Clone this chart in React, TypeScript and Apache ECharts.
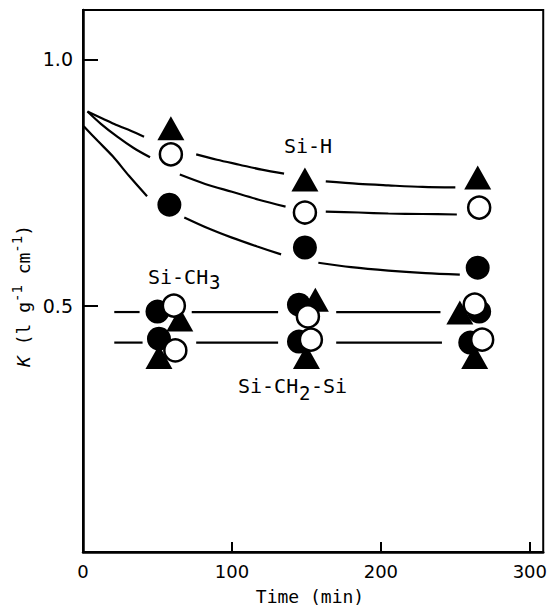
import React, { useEffect, useRef } from 'react';
import * as echarts from 'echarts';

// Axis ticks
const xTickValues = [0, 100, 200, 300];
const yTickValues = [0.5, 1.0];

// Measured points [time (min), K]
const triangles: [number, number][] = [
  [59, 0.860], [149, 0.756], [265, 0.760],
  [65, 0.472], [156, 0.512], [253, 0.486],
  [51, 0.396], [150, 0.396], [263, 0.396],
];
const filledCircles: [number, number][] = [
  [58, 0.705], [149, 0.618], [265, 0.577],
  [50, 0.488], [145, 0.502], [266, 0.488],
  [51, 0.433], [145, 0.427], [260, 0.425],
];
const openCircles: [number, number][] = [
  [59, 0.807], [149, 0.689], [266, 0.699],
  [61, 0.500], [151, 0.478], [263, 0.502],
  [62, 0.409], [153, 0.431], [268, 0.431],
];

// Hand-drawn guide curves (segments broken around the markers)
const curveSiHTriangle: [number, number][][] = [
  [[3, 0.894], [13, 0.880], [22, 0.867], [32, 0.855], [41, 0.843]],
  [[76, 0.807], [90, 0.796], [105, 0.786], [120, 0.776], [135, 0.768]],
  [[163, 0.752], [185, 0.747], [205, 0.744], [228, 0.741], [250, 0.740]],
];
const curveSiHOpen: [number, number][][] = [
  [[3, 0.894], [12, 0.869], [23, 0.843], [34, 0.820], [45, 0.801]],
  [[65, 0.766], [82, 0.747], [100, 0.731], [118, 0.715], [136, 0.701]],
  [[163, 0.691], [185, 0.689], [205, 0.687], [228, 0.686], [251, 0.685]],
];
const curveSiHFilled: [number, number][][] = [
  [[0.5, 0.864], [10, 0.834], [20, 0.803], [31, 0.763], [43, 0.722]],
  [[68, 0.679], [84, 0.657], [100, 0.638], [117, 0.620], [133, 0.604]],
  [[158, 0.587], [180, 0.578], [205, 0.571], [230, 0.566], [253, 0.563]],
];
const lineSiCH3: [number, number][][] = [
  [[21, 0.487], [38, 0.487]],
  [[73, 0.487], [131, 0.487]],
  [[170, 0.487], [240, 0.487]],
];
const lineSiCH2Si: [number, number][][] = [
  [[21, 0.425], [40, 0.425]],
  [[76, 0.425], [131, 0.425]],
  [[170, 0.425], [241, 0.425]],
];

const FONT = 'DejaVu Sans Mono';
const TICK_FONT = 'DejaVu Sans';

export default function App() {
  const ref = useRef<HTMLDivElement>(null);

  useEffect(() => {
    if (!ref.current) return;
    const chart = echarts.init(ref.current, null, { renderer: 'svg' });

    const lineSeries: any[] = [];
    const addCurve = (segs: [number, number][][], smooth: number | boolean) => {
      segs.forEach((seg) => {
        lineSeries.push({
          type: 'line',
          data: seg,
          smooth,
          symbol: 'none',
          silent: true,
          lineStyle: { color: '#000', width: 2.2 },
          z: 1,
        });
      });
    };
    addCurve(curveSiHTriangle, 0.3);
    addCurve(curveSiHOpen, 0.3);
    addCurve(curveSiHFilled, 0.3);
    addCurve(lineSiCH3, false);
    addCurve(lineSiCH2Si, false);

    const txt = (text: string, x: number, y: number, size: number) => ({
      type: 'text',
      x,
      y,
      style: { text, fontFamily: FONT, fontSize: size, fill: '#000', align: 'left', verticalAlign: 'middle' },
    });

    chart.setOption({
      animation: false,
      backgroundColor: '#fff',
      grid: {
        left: 83,
        right: 3,
        top: 10,
        bottom: 60,
        show: true,
        borderColor: '#000',
        borderWidth: 2,
        backgroundColor: 'transparent',
      },
      xAxis: {
        type: 'value',
        min: 0,
        max: 309,
        interval: 100,
        splitLine: { show: false },
        axisLine: { show: true, lineStyle: { color: '#000', width: 2.5 } },
        axisTick: { show: true, inside: true, length: 10, lineStyle: { color: '#000', width: 2 } },
        axisLabel: {
          show: true,
          color: '#000',
          fontFamily: TICK_FONT,
          fontSize: 18,
          margin: 10,
          showMaxLabel: false,
          formatter: (v: number) => (xTickValues.includes(v) ? String(v) : ''),
        },
      },
      yAxis: {
        type: 'value',
        min: 0,
        max: 1.1,
        interval: 0.5,
        splitLine: { show: false },
        axisLine: { show: true, lineStyle: { color: '#000', width: 2.5 } },
        axisTick: { show: true, inside: true, length: 15, lineStyle: { color: '#000', width: 2 } },
        axisLabel: {
          show: true,
          color: '#000',
          fontFamily: TICK_FONT,
          fontSize: 19,
          margin: 10,
          showMaxLabel: false,
          formatter: (v: number) =>
            yTickValues.some((t) => Math.abs(t - v) < 1e-9) ? v.toFixed(1) : '',
        },
      },
      graphic: [
        {
          type: 'text',
          x: 23,
          y: 296,
          rotation: Math.PI / 2,
          style: {
            text: '{i|K} (l g{s|-1} cm{s|-1})',
            fontFamily: FONT,
            fontSize: 18,
            fill: '#000',
            align: 'center',
            verticalAlign: 'middle',
            rich: {
              i: { fontStyle: 'italic', fontFamily: FONT, fontSize: 18, lineHeight: 26 },
              s: { fontFamily: FONT, fontSize: 14, verticalAlign: 'top', lineHeight: 14 },
            },
          },
        },
        {
          type: 'text',
          x: 310,
          y: 596,
          style: {
            text: 'Time (min)',
            fontFamily: FONT,
            fontSize: 18,
            fill: '#000',
            align: 'center',
            verticalAlign: 'middle',
          },
        },
        txt('Si-H', 284, 146, 20),
        txt('Si-CH', 148, 277, 20),
        txt('3', 209, 282, 19),
        txt('Si-CH', 238, 386, 20),
        txt('2', 299, 393, 19),
        txt('-Si', 311, 386, 20),
      ],
      series: [
        ...lineSeries,
        {
          type: 'scatter',
          data: triangles,
          symbol: 'triangle',
          symbolSize: [27, 24],
          itemStyle: { color: '#000', opacity: 1 },
          silent: true,
          z: 2,
        },
        {
          type: 'scatter',
          data: filledCircles,
          symbol: 'circle',
          symbolSize: 24,
          itemStyle: { color: '#000', opacity: 1 },
          silent: true,
          z: 3,
        },
        {
          type: 'scatter',
          data: openCircles,
          symbol: 'circle',
          symbolSize: 22,
          itemStyle: { color: '#fff', borderColor: '#000', borderWidth: 2.5, opacity: 1 },
          silent: true,
          z: 4,
        },
      ],
    });

    return () => chart.dispose();
  }, []);

  return <div ref={ref} style={{ width: 550, height: 612, position: 'absolute', left: 0, top: 0 }} />;
}
